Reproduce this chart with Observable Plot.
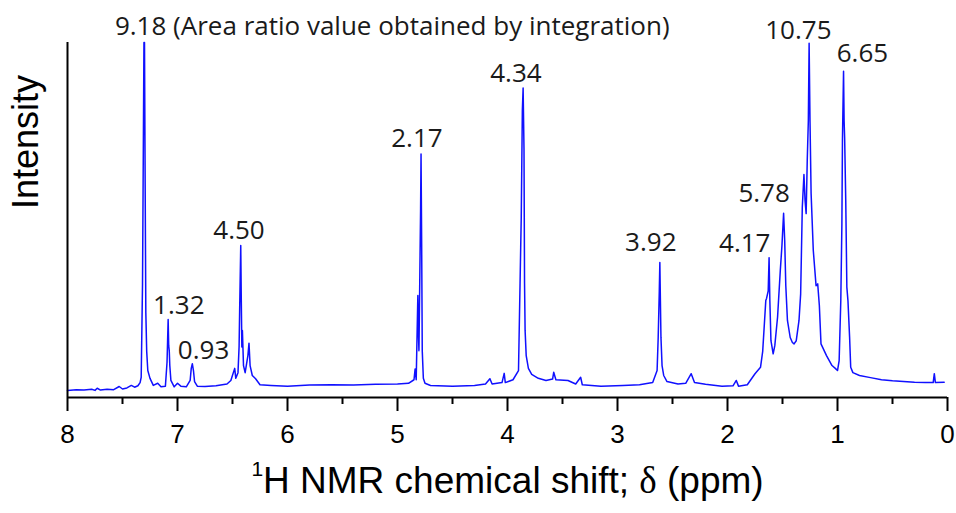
<!DOCTYPE html>
<html>
<head>
<meta charset="utf-8">
<script src="https://cdn.jsdelivr.net/npm/d3@7"></script>
<script src="https://cdn.jsdelivr.net/npm/@observablehq/plot@0.6"></script>
<style>
  html, body { margin: 0; padding: 0; background: #ffffff; }
</style>
</head>
<body>
<div id="chart"></div>
<script>
// Chemical shift (ppm) and intensity (% of the vertical frame)
const shift = [
  8.00, 7.92, 7.85, 7.78, 7.75, 7.73, 7.70, 7.64, 7.58, 7.53, 7.50, 7.46, 7.42, 7.39, 7.36, 7.34, 7.33,
  7.318, 7.305, 7.300, 7.294, 7.288, 7.280, 7.270, 7.250, 7.220, 7.180, 7.150, 7.110,
  7.095, 7.090, 7.085, 7.080, 7.075, 7.070, 7.060, 7.030, 7.000, 6.970, 6.920,
  6.885, 6.875, 6.865, 6.855, 6.845, 6.820, 6.750, 6.650, 6.550, 6.515,
  6.480, 6.470, 6.450, 6.440, 6.435, 6.425, 6.420, 6.415, 6.410, 6.400, 6.385, 6.360, 6.350, 6.340, 6.320, 6.290,
  6.250, 6.150, 6.000, 5.800, 5.600, 5.400, 5.200, 5.000, 4.900, 4.850,
  4.840, 4.830, 4.815, 4.810, 4.805, 4.790, 4.786, 4.780, 4.775, 4.765, 4.750, 4.700,
  4.500, 4.300, 4.200, 4.160, 4.140, 4.050, 4.030, 4.020, 3.950, 3.900,
  3.880, 3.875, 3.865, 3.858, 3.850, 3.845, 3.840, 3.830, 3.810, 3.780, 3.720, 3.650,
  3.590, 3.580, 3.560, 3.450, 3.380, 3.335, 3.320, 3.150, 2.950, 2.800, 2.680,
  2.640, 2.630, 2.620, 2.615, 2.610, 2.605, 2.595, 2.580, 2.550, 2.450, 2.380, 2.330, 2.300,
  2.200, 2.050, 1.950, 1.920, 1.900, 1.820, 1.750, 1.700, 1.680,
  1.652, 1.645, 1.630, 1.622, 1.615, 1.605, 1.595, 1.585, 1.570, 1.545, 1.520, 1.505,
  1.490, 1.480, 1.470, 1.455, 1.430, 1.410, 1.395, 1.375, 1.350, 1.335, 1.320, 1.305,
  1.295, 1.285, 1.275, 1.265, 1.258, 1.250, 1.240, 1.220, 1.195, 1.180, 1.165, 1.150,
  1.100, 1.050, 1.020, 1.000, 0.985, 0.970, 0.960, 0.955, 0.945, 0.940, 0.935, 0.925,
  0.915, 0.905, 0.890, 0.880, 0.860, 0.800, 0.700, 0.600, 0.500, 0.400, 0.300, 0.200,
  0.130, 0.120, 0.110, 0.030
];
const intensity = [
  2.0, 2.2, 2.1, 2.3, 2.0, 2.6, 2.1, 2.3, 2.2, 3.1, 2.4, 2.7, 3.4, 2.9, 3.3, 4.2, 5.7,
  32, 100, 100, 60, 24, 13, 7.6, 5.4, 3.4, 4.0, 3.0, 3.2,
  10, 16, 22, 14.6, 13.2, 9, 4.8, 3.0, 4.0, 3.2, 3.0,
  4.8, 8.2, 9.5, 7.6, 4.5, 3.2, 3.1, 3.3, 3.8, 4.8,
  8.2, 5.4, 7.0, 14.4, 24.5, 42.8, 27.3, 14.2, 18.9, 9.0, 7.0, 11.8, 15.3, 9.0, 6.2, 5.3,
  3.6, 3.4, 3.2, 3.5, 3.6, 3.5, 3.7, 3.8, 4.0, 5.0,
  8.0, 5.0, 28.7, 18.4, 13.2, 53.2, 68.6, 41.4, 13.2, 5.4, 4.0, 3.4,
  3.2, 3.4, 3.8, 5.3, 3.8, 4.2, 6.8, 4.2, 5.0, 7.6,
  42.3, 50.8, 80.8, 87.2, 69.9, 32.1, 18.9, 11.8, 8.2, 6.5, 5.4, 4.8,
  5.2, 7.1, 5.0, 4.8, 3.8, 5.7, 3.6, 3.2, 3.4, 3.6, 4.2,
  7.6, 17, 30, 38, 27.3, 17, 9, 6.2, 4.5, 3.8, 4.0, 6.7, 4.2,
  3.7, 3.2, 3.3, 4.8, 3.2, 3.6, 6.7, 8.5, 13,
  27.3, 27.9, 30, 39.4, 27.3, 16, 14.2, 12.3, 14.6, 22.6, 35.8, 42.8,
  51.9, 44.2, 31.5, 21.7, 16.9, 15.5, 15.1, 16.0, 21.7, 29.2, 53.6, 62.8,
  55.5, 51.8, 66.8, 78, 99.8, 78, 57.5, 41.4, 31.5, 32, 25.9, 15.1,
  11.8, 9, 8.2, 7.6, 10.4, 27.3, 49, 72.4, 91.9, 78, 73, 55.5,
  31.1, 27.3, 17, 8.5, 7, 6.2, 5.6, 5.0, 4.7, 4.5, 4.3, 4.2,
  4.2, 6.7, 4.2, 4.3
];

// Integration labels (text, position in ppm, height)
const labelText = ["9.18 (Area ratio value obtained by integration)", "1.32", "0.93", "4.50", "2.17", "4.34", "3.92", "4.17", "5.78", "10.75", "6.65"];
const labelShift = [7.569, 6.988, 6.763, 6.441, 4.823, 3.923, 2.697, 1.843, 1.667, 1.356, 0.773];
const labelHeight = [104.5, 25.9, 13.2, 47.0, 72.8, 91.1, 43.5, 43.3, 57.4, 103.4, 96.8];

// Axis ticks and titles
const majorTicks = [8, 7, 6, 5, 4, 3, 2, 1, 0];
const minorTicks = [7.5, 6.5, 5.5, 4.5, 3.5, 2.5, 1.5, 0.5];
const xTitleParts = ["1", "H NMR chemical shift; ", "\u03B4", " (ppm)"];
const xTitle = xTitleParts.join("");
const yTitle = "Intensity";

const spectrum = shift.map((s, i) => ({shift: s, intensity: intensity[i]}));
const labels = labelText.map((t, i) => ({text: t, shift: labelShift[i], height: labelHeight[i]}));

const chart = Plot.plot({
  width: 956,
  height: 513,
  marginLeft: 67,
  marginRight: 9,
  marginTop: 42,
  marginBottom: 116,
  x: {domain: [8, 0], axis: null},
  y: {domain: [0, 100], axis: null},
  style: {fontFamily: "'Liberation Sans', Arial, sans-serif", background: "#ffffff", color: "#000000"},
  marks: [
    Plot.line(spectrum, {x: "shift", y: "intensity", stroke: "#1010ff", strokeWidth: 1.5, strokeLinejoin: "round"}),
    Plot.ruleY([0], {stroke: "#000000", strokeWidth: 2}),
    Plot.ruleX([8], {stroke: "#000000", strokeWidth: 2}),
    Plot.axisX({ticks: majorTicks, tickSize: 14, tickPadding: 13, fontSize: 26, strokeWidth: 2, stroke: "#000000", fill: "#000000", label: null}),
    Plot.axisX({ticks: minorTicks, tickSize: 7, tickFormat: () => "", strokeWidth: 2, stroke: "#000000", label: null}),
    Plot.text(labels.slice(0, 1), {x: "shift", y: "height", text: "text", textAnchor: "start", fontSize: 26, fontFamily: "'Open Sans', sans-serif", fill: "#1a1a1a"}),
    Plot.text(labels.slice(1), {x: "shift", y: "height", text: "text", fontSize: 26, fontFamily: "'Open Sans', sans-serif", fill: "#1a1a1a"}),
    Plot.text([xTitle], {text: d => d, frameAnchor: "bottom", dy: 95, fontSize: 37, fill: "#000000"}),
    Plot.text([yTitle], {text: d => d, frameAnchor: "left", rotate: -90, dx: -41.5, dy: -11, fontSize: 36, fill: "#000000"})
  ]
});

// Typeset the x title: superscript "1" and a serif delta, as in the original
d3.select(chart).selectAll("text").filter(function() { return this.textContent === xTitle; }).each(function() {
  const t = d3.select(this);
  t.text(null);
  t.append("tspan").attr("font-size", 21).attr("dy", -17).text(xTitleParts[0]);
  t.append("tspan").attr("dy", 17).text(xTitleParts[1]);
  t.append("tspan").attr("font-family", "'Liberation Serif', serif").text(xTitleParts[2]);
  t.append("tspan").text(xTitleParts[3]);
});

document.getElementById("chart").appendChild(chart);
</script>
</body>
</html>
